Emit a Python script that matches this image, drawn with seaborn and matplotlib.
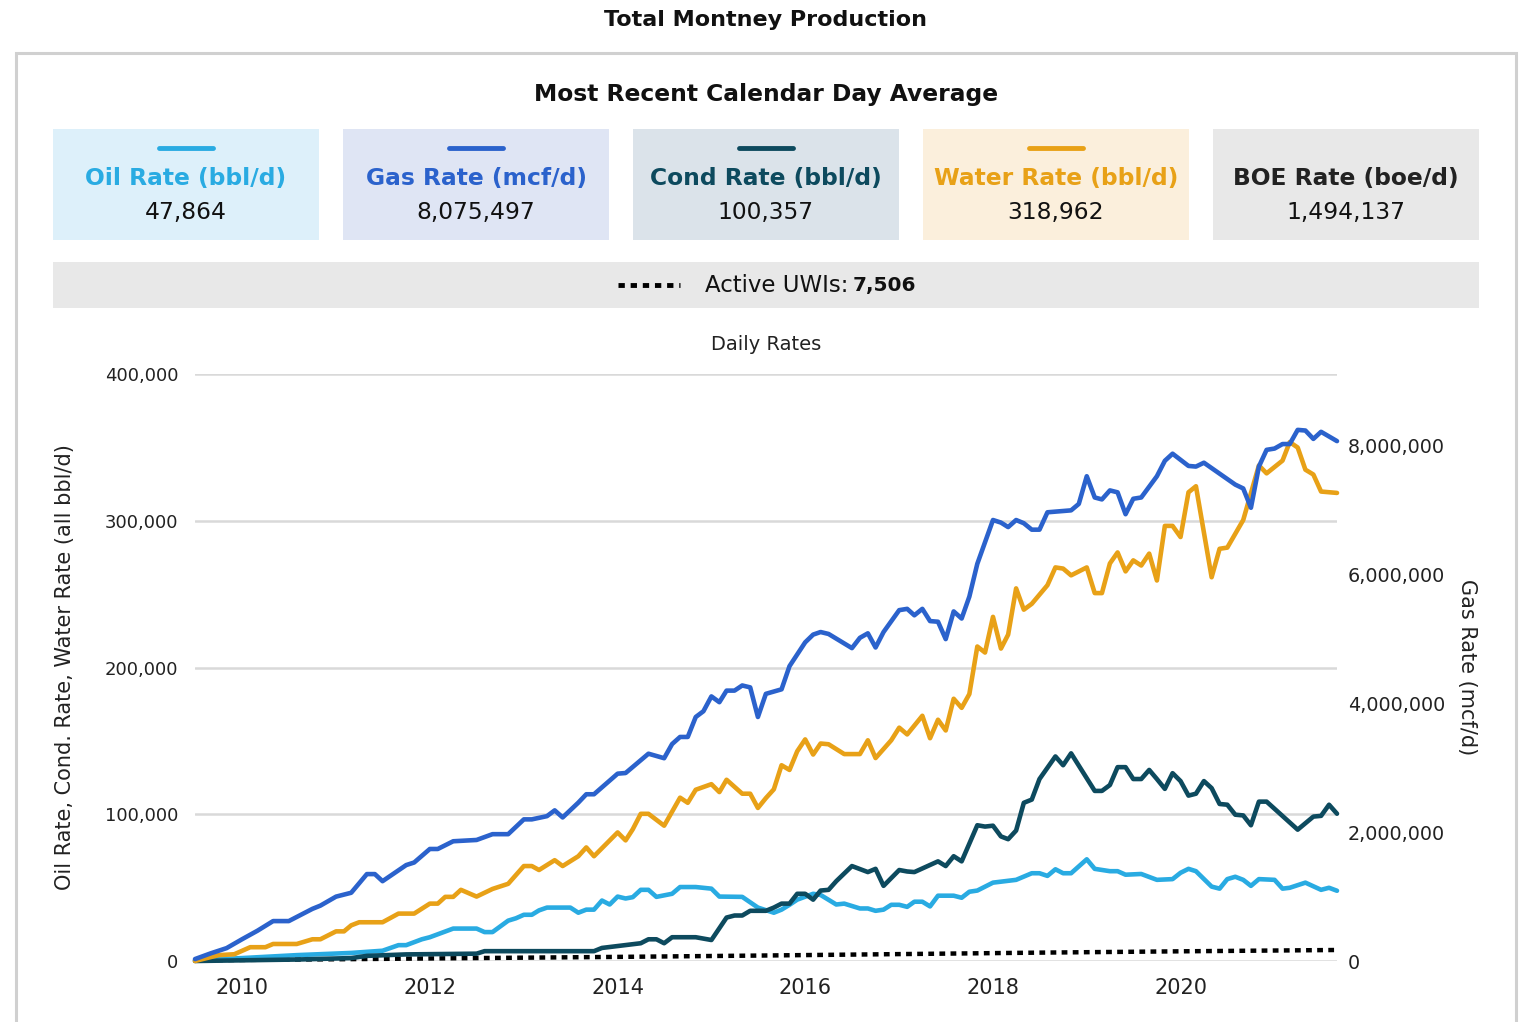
import numpy as np
import pandas as pd
import matplotlib
matplotlib.use("Agg")
import matplotlib.pyplot as plt
from matplotlib.patches import Rectangle
from matplotlib.lines import Line2D
from matplotlib.ticker import FuncFormatter
import matplotlib.dates as mdates
import seaborn as sns

# ---- data (vertices of each monthly line) ----
oil_months = ["2009-07", "2010-01", "2010-08", "2011-03", "2011-07", "2011-09", "2011-10", "2011-12",
              "2012-01", "2012-04", "2012-07", "2012-08", "2012-09", "2012-11", "2012-12", "2013-01",
              "2013-02", "2013-03", "2013-04", "2013-07", "2013-08", "2013-09", "2013-10", "2013-11",
              "2013-12", "2014-01", "2014-02", "2014-03", "2014-04", "2014-05", "2014-06", "2014-08",
              "2014-09", "2014-11", "2015-01", "2015-02", "2015-05", "2015-07", "2015-09", "2015-10",
              "2015-11", "2015-12", "2016-02", "2016-03", "2016-05", "2016-06", "2016-08", "2016-09",
              "2016-10", "2016-11", "2016-12", "2017-01", "2017-02", "2017-03", "2017-04", "2017-05",
              "2017-06", "2017-08", "2017-09", "2017-10", "2017-11", "2018-01", "2018-04", "2018-06",
              "2018-07", "2018-08", "2018-09", "2018-10", "2018-11", "2019-01", "2019-02", "2019-04",
              "2019-05", "2019-06", "2019-08", "2019-10", "2019-12", "2020-01", "2020-02", "2020-03",
              "2020-05", "2020-06", "2020-07", "2020-08", "2020-09", "2020-10", "2020-11", "2021-01",
              "2021-02", "2021-03", "2021-05", "2021-07", "2021-08", "2021-09"]
oil_rate = [500, 2000, 4000, 5500, 7000, 10800, 10800, 14800,
            16200, 22100, 22100, 19700, 19700, 27500, 29100, 31500,
            31500, 34500, 36400, 36400, 32900, 35000, 35000, 41200,
            38500, 43900, 42600, 43500, 48500, 48500, 43700, 45800,
            50400, 50400, 49300, 43900, 43700, 36400, 32900, 35000,
            38300, 41800, 45800, 45000, 38500, 39100, 35800, 35800,
            34200, 35000, 38300, 38300, 36900, 40400, 40400, 37200,
            44500, 44500, 43100, 47200, 48000, 53400, 55300, 59800,
            59800, 58000, 62500, 59800, 59800, 69300, 62800, 61200,
            61200, 58800, 59300, 55300, 55800, 60100, 62800, 61200,
            50700, 49300, 55800, 57400, 55300, 51200, 55800, 55300,
            49300, 49900, 53400, 48500, 49900, 47864]

gas_months = ["2009-07", "2009-09", "2009-11", "2010-01", "2010-03", "2010-05", "2010-07", "2010-10",
              "2010-11", "2011-01", "2011-03", "2011-05", "2011-06", "2011-07", "2011-10", "2011-11",
              "2012-01", "2012-02", "2012-04", "2012-07", "2012-09", "2012-11", "2013-01", "2013-02",
              "2013-04", "2013-05", "2013-06", "2013-08", "2013-09", "2013-10", "2014-01", "2014-02",
              "2014-05", "2014-07", "2014-08", "2014-09", "2014-10", "2014-11", "2014-12", "2015-01",
              "2015-02", "2015-03", "2015-04", "2015-05", "2015-06", "2015-07", "2015-08", "2015-10",
              "2015-11", "2016-01", "2016-02", "2016-03", "2016-04", "2016-07", "2016-08", "2016-09",
              "2016-10", "2016-11", "2017-01", "2017-02", "2017-03", "2017-04", "2017-05", "2017-06",
              "2017-07", "2017-08", "2017-09", "2017-10", "2017-11", "2018-01", "2018-02", "2018-03",
              "2018-04", "2018-05", "2018-06", "2018-07", "2018-08", "2018-11", "2018-12", "2019-01",
              "2019-02", "2019-03", "2019-04", "2019-05", "2019-06", "2019-07", "2019-08", "2019-10",
              "2019-11", "2019-12", "2020-02", "2020-03", "2020-04", "2020-08", "2020-09", "2020-10",
              "2020-11", "2020-12", "2021-01", "2021-02", "2021-03", "2021-04", "2021-05", "2021-06",
              "2021-07", "2021-09"]
gas_rate = [30000, 120000, 200000, 340000, 470000, 620000, 620000, 810000,
            860000, 1000000, 1060000, 1350000, 1350000, 1240000, 1490000, 1530000,
            1740000, 1740000, 1860000, 1880000, 1970000, 1970000, 2200000, 2200000,
            2250000, 2340000, 2230000, 2460000, 2590000, 2590000, 2910000, 2920000,
            3220000, 3150000, 3370000, 3480000, 3480000, 3790000, 3880000, 4110000,
            4020000, 4200000, 4200000, 4280000, 4250000, 3790000, 4150000, 4220000,
            4580000, 4950000, 5070000, 5110000, 5080000, 4860000, 5020000, 5090000,
            4870000, 5110000, 5450000, 5470000, 5370000, 5470000, 5280000, 5270000,
            5000000, 5430000, 5320000, 5660000, 6170000, 6850000, 6810000, 6740000,
            6850000, 6800000, 6700000, 6700000, 6970000, 7000000, 7100000, 7530000,
            7200000, 7170000, 7310000, 7280000, 6940000, 7180000, 7200000, 7530000,
            7770000, 7880000, 7690000, 7680000, 7740000, 7400000, 7340000, 7040000,
            7680000, 7940000, 7960000, 8030000, 8030000, 8250000, 8240000, 8110000,
            8220000, 8075497]

cond_months = ["2009-07", "2010-08", "2011-03", "2011-05", "2011-10", "2012-07", "2012-08", "2013-10",
               "2013-11", "2014-04", "2014-05", "2014-06", "2014-07", "2014-08", "2014-11", "2015-01",
               "2015-03", "2015-04", "2015-05", "2015-06", "2015-08", "2015-09", "2015-10", "2015-11",
               "2015-12", "2016-01", "2016-02", "2016-03", "2016-04", "2016-05", "2016-07", "2016-09",
               "2016-10", "2016-11", "2017-01", "2017-02", "2017-03", "2017-06", "2017-07", "2017-08",
               "2017-09", "2017-11", "2017-12", "2018-01", "2018-02", "2018-03", "2018-04", "2018-05",
               "2018-06", "2018-07", "2018-09", "2018-10", "2018-11", "2019-02", "2019-03", "2019-04",
               "2019-05", "2019-06", "2019-07", "2019-08", "2019-09", "2019-10", "2019-11", "2019-12",
               "2020-01", "2020-02", "2020-03", "2020-04", "2020-05", "2020-06", "2020-07", "2020-08",
               "2020-09", "2020-10", "2020-11", "2020-12", "2021-04", "2021-06", "2021-07", "2021-08",
               "2021-09"]
cond_rate = [0, 1000, 2000, 3500, 4500, 5000, 6700, 6700,
             8900, 12100, 14800, 14800, 12100, 16200, 16200, 14300,
             29600, 31000, 31000, 34200, 34200, 36400, 39100, 39100,
             45800, 45800, 41800, 48000, 48500, 54400, 64700, 60600,
             62800, 51200, 62000, 61000, 60600, 67900, 64700, 71400,
             67900, 92500, 91600, 92200, 84900, 83000, 88900, 107800,
             110000, 124000, 139400, 133400, 141500, 115900, 115900, 119900,
             132100, 132100, 124000, 124000, 130200, 124000, 117300, 128000,
             122600, 112700, 114000, 122600, 117800, 107000, 106500, 99700,
             99200, 92500, 108600, 108600, 89500, 98400, 98900, 106500,
             100357]

water_months = ["2009-07", "2009-10", "2009-12", "2010-02", "2010-04", "2010-05", "2010-08", "2010-10",
                "2010-11", "2011-01", "2011-02", "2011-03", "2011-04", "2011-07", "2011-09", "2011-11",
                "2012-01", "2012-02", "2012-03", "2012-04", "2012-05", "2012-07", "2012-09", "2012-11",
                "2013-01", "2013-02", "2013-03", "2013-05", "2013-06", "2013-08", "2013-09", "2013-10",
                "2014-01", "2014-02", "2014-03", "2014-04", "2014-05", "2014-07", "2014-09", "2014-10",
                "2014-11", "2015-01", "2015-02", "2015-03", "2015-05", "2015-06", "2015-07", "2015-08",
                "2015-09", "2015-10", "2015-11", "2015-12", "2016-01", "2016-02", "2016-03", "2016-04",
                "2016-06", "2016-08", "2016-09", "2016-10", "2016-12", "2017-01", "2017-02", "2017-04",
                "2017-05", "2017-06", "2017-07", "2017-08", "2017-09", "2017-10", "2017-11", "2017-12",
                "2018-01", "2018-02", "2018-03", "2018-04", "2018-05", "2018-06", "2018-08", "2018-09",
                "2018-10", "2018-11", "2019-01", "2019-02", "2019-03", "2019-04", "2019-05", "2019-06",
                "2019-07", "2019-08", "2019-09", "2019-10", "2019-11", "2019-12", "2020-01", "2020-02",
                "2020-03", "2020-05", "2020-06", "2020-07", "2020-09", "2020-11", "2020-12", "2021-02",
                "2021-03", "2021-04", "2021-05", "2021-06", "2021-07", "2021-09"]
water_rate = [0, 4000, 4600, 9400, 9400, 11600, 11600, 14800,
              14800, 20200, 20200, 24300, 26400, 26400, 32300, 32300,
              39100, 39100, 43700, 43700, 48500, 43900, 49100, 52600,
              64700, 64700, 62000, 68700, 64700, 71400, 77400, 71400,
              87600, 82200, 89800, 100300, 100300, 92200, 111300, 107800,
              116700, 120500, 115100, 123500, 114000, 114000, 104300, 111000,
              117000, 133400, 130200, 142900, 151000, 140700, 148200, 147700,
              141000, 141000, 150400, 138300, 150400, 159000, 154400, 167100,
              151800, 164400, 157100, 178700, 172500, 181900, 214300, 210200,
              234500, 212900, 222400, 253900, 239400, 243400, 256100, 268200,
              267400, 262800, 268200, 250700, 250700, 270900, 278400, 265500,
              273000, 269500, 277600, 259300, 296500, 296500, 288900, 319400,
              323500, 261500, 280900, 281700, 300500, 337700, 332300, 341000,
              353600, 349900, 334800, 331500, 319900, 318962]

uwi_months = ["2009-07", "2011-01", "2012-07", "2014-01", "2015-07", "2017-01", "2018-07", "2020-01", "2021-09"]
uwi_count = [500, 1200, 2000, 2800, 3700, 4700, 5700, 6600, 7506]

cards = ["Oil Rate (bbl/d)", "Gas Rate (mcf/d)", "Cond Rate (bbl/d)", "Water Rate (bbl/d)", "BOE Rate (boe/d)"]
card_values = ["47,864", "8,075,497", "100,357", "318,962", "1,494,137"]
line_colors = ["#29abe2", "#2b62cc", "#0d4a5e", "#e8a117", "#222222"]
card_bg = ["#ddf0fa", "#dfe5f4", "#dbe3ea", "#fbefdc", "#e8e8e8"]

sns.set_style("white")
plt.rcParams["font.family"] = ["DejaVu Sans"]

W, H = 1524, 1022
fig = plt.figure(figsize=(W / 100, H / 100), dpi=100)


def fx(px):
    return px / W


def fy(py):
    return 1 - py / H


# titles and frame
fig.text(fx(765), fy(20), "Total Montney Production", ha="center", va="center",
         fontsize=16, fontweight="bold", color="#111111")
fig.add_artist(Rectangle((fx(16), fy(1040)), fx(1516) - fx(16), fy(53) - fy(1040),
                         transform=fig.transFigure, fill=False, ec="#d0d0d0", lw=2.2))
fig.text(fx(766), fy(94), "Most Recent Calendar Day Average", ha="center", va="center",
         fontsize=16.8, fontweight="bold", color="#111111")

# summary cards
for i, (lab, val) in enumerate(zip(cards, card_values)):
    x0 = 53 + i * 290
    fig.add_artist(Rectangle((fx(x0), fy(240)), fx(266), fy(129) - fy(240),
                             transform=fig.transFigure, fc=card_bg[i], ec="none"))
    xc = x0 + 133
    if i < 4:
        fig.add_artist(Line2D([fx(xc - 27), fx(xc + 27)], [fy(148), fy(148)],
                              transform=fig.transFigure, color=line_colors[i], lw=3.5))
    fig.text(fx(xc), fy(178), lab, ha="center", va="center", fontsize=16.8,
             fontweight="bold", color=line_colors[i])
    fig.text(fx(xc), fy(213), val, ha="center", va="center", fontsize=16.8, color="#111111")

# active wells bar
fig.add_artist(Rectangle((fx(53), fy(308)), fx(1426), fy(262) - fy(308),
                         transform=fig.transFigure, fc="#e8e8e8", ec="none"))
fig.add_artist(Line2D([fx(618), fx(680)], [fy(285), fy(285)], transform=fig.transFigure,
                      color="black", lw=3.5, linestyle=(0, (1.3, 1.2))))
fig.text(fx(705), fy(285), "Active UWIs:", ha="left", va="center", fontsize=16.5, color="#111111")
fig.text(fx(853), fy(285), "7,506", ha="left", va="center", fontsize=14.5,
         fontweight="bold", color="#111111")

# chart
ax = fig.add_axes([fx(195), fy(961), fx(1337) - fx(195), fy(374) - fy(961)])
ax2 = ax.twinx()

oil = pd.DataFrame({"date": pd.to_datetime(oil_months), "rate": oil_rate})
gas = pd.DataFrame({"date": pd.to_datetime(gas_months), "rate": gas_rate})
cond = pd.DataFrame({"date": pd.to_datetime(cond_months), "rate": cond_rate})
water = pd.DataFrame({"date": pd.to_datetime(water_months), "rate": water_rate})
uwi = pd.DataFrame({"date": pd.to_datetime(uwi_months), "count": uwi_count})

lw = 3.3
sns.lineplot(data=uwi, x="date", y="count", ax=ax, color="black", linewidth=3.2,
             linestyle=(0, (1.3, 1.2)))
sns.lineplot(data=oil, x="date", y="rate", ax=ax, color=line_colors[0], linewidth=lw)
sns.lineplot(data=cond, x="date", y="rate", ax=ax, color=line_colors[2], linewidth=lw)
sns.lineplot(data=water, x="date", y="rate", ax=ax, color=line_colors[3], linewidth=lw)
sns.lineplot(data=gas, x="date", y="rate", ax=ax2, color=line_colors[1], linewidth=lw)
for a in (ax, ax2):
    for ln in a.lines:
        ln.set_clip_on(False)
        ln.set_solid_joinstyle("round")

ax.set_xlim(pd.Timestamp("2009-07-01"), pd.Timestamp("2021-09-01"))
ax.set_ylim(0, 400000)
ax2.set_ylim(0, 9118000)
ax.set_yticks([0, 100000, 200000, 300000, 400000])
ax2.set_yticks([0, 2000000, 4000000, 6000000, 8000000])
fmt = FuncFormatter(lambda v, p: f"{v:,.0f}")
ax.yaxis.set_major_formatter(fmt)
ax2.yaxis.set_major_formatter(fmt)
ax.xaxis.set_major_locator(mdates.YearLocator(2))
ax.xaxis.set_major_formatter(mdates.DateFormatter("%Y"))

ax.yaxis.grid(True, color="#d9d9d9", lw=1.8)
ax.xaxis.grid(False)
ax.set_axisbelow(True)
for a in (ax, ax2):
    for s in a.spines.values():
        s.set_visible(False)
ax.tick_params(axis="y", length=0, pad=12, labelsize=13, labelcolor="#222222")
ax.tick_params(axis="x", length=0, pad=12, labelsize=15, labelcolor="#222222")
ax2.tick_params(axis="y", length=0, pad=8, labelsize=13.8, labelcolor="#222222")

ax.set_xlabel("")
ax.set_ylabel("Oil Rate, Cond. Rate, Water Rate (all bbl/d)", fontsize=15, color="#222222",
              va="center")
ax.yaxis.set_label_coords(-0.1138, 0.5)
ax2.set_ylabel("Gas Rate (mcf/d)", fontsize=15, color="#222222", rotation=270, va="center")
ax2.yaxis.set_label_coords(1.1138, 0.5)
ax.set_title("Daily Rates", fontsize=14, color="#222222", pad=17)

fig.savefig("out.png", dpi=100)
